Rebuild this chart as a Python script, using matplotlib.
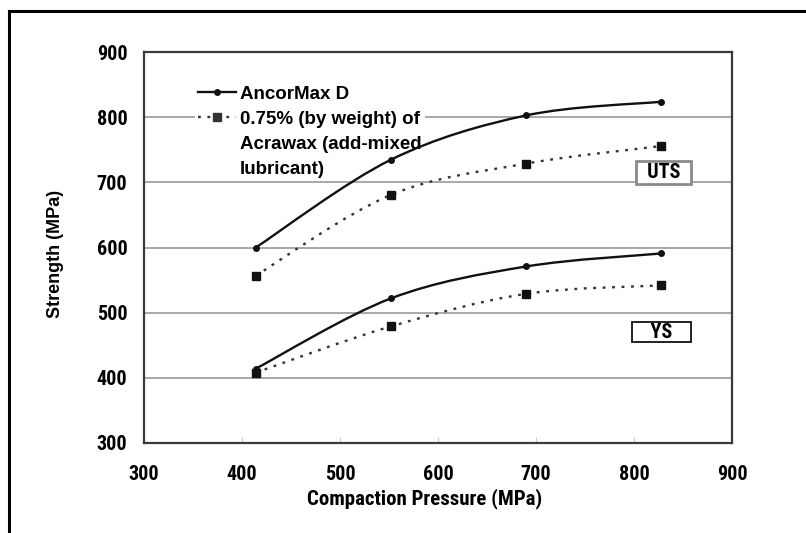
import matplotlib
matplotlib.use("Agg")
import matplotlib.pyplot as plt
from matplotlib.lines import Line2D
from matplotlib.path import Path
from matplotlib.patches import PathPatch
import numpy as np

plt.rcParams['font.family'] = ['Roboto Condensed', 'Archivo Narrow', 'Liberation Sans Narrow', 'DejaVu Sans']
plt.rcParams['font.weight'] = 'bold'

pressure = [414, 552, 690, 828]
uts_ancormax = [600, 735, 803, 824]
uts_acrawax = [557, 681, 729, 756]
ys_ancormax = [414, 522, 571, 591]
ys_acrawax = [408, 479, 529, 542]

legend_labels = ["AncorMax D", "0.75% (by weight) of", "Acrawax (add-mixed", "lubricant)"]
x_ticks = [300, 400, 500, 600, 700, 800, 900]
y_ticks = [300, 400, 500, 600, 700, 800, 900]


def smooth_path(xs, ys):
    # bezier through the points, like the spreadsheet "smoothed line"
    pts = np.column_stack([xs, ys]).astype(float)
    n = len(pts)
    verts = [pts[0]]
    codes = [Path.MOVETO]
    for i in range(n - 1):
        p0 = pts[i - 1] if i > 0 else pts[i]
        p1 = pts[i]
        p2 = pts[i + 1]
        p3 = pts[i + 2] if i + 2 < n else pts[i + 1]
        c1 = p1 + (p2 - p0) / 6.0
        c2 = p2 - (p3 - p1) / 6.0
        verts += [c1, c2, p2]
        codes += [Path.CURVE4] * 3
    return Path(verts, codes)


fig = plt.figure(figsize=(8.06, 5.33), dpi=100)
ax = fig.add_axes([0.1787, 0.169, 0.7295, 0.733])

solid = dict(color='#111111', lw=1.7)
dotted = dict(color='#333333', lw=1.7, linestyle=(0, (1.2, 2.8)))

for ys in (uts_ancormax, ys_ancormax):
    ax.add_patch(PathPatch(smooth_path(pressure, ys), fill=False, zorder=3, **solid))
    ax.plot(pressure, ys, linestyle='none', marker='o', ms=4, color='#111111', zorder=4)
for ys in (uts_acrawax, ys_acrawax):
    ax.add_patch(PathPatch(smooth_path(pressure, ys), fill=False, zorder=3, **dotted))
    ax.plot(pressure, ys, linestyle='none', marker='s', ms=6, color='#111111', zorder=4)

ax.set_xlim(300, 900)
ax.set_ylim(300, 900)
ax.set_xticks(x_ticks)
ax.set_yticks(y_ticks)
ax.tick_params(axis='both', labelsize=14.5, direction='in', length=4, color='#cccccc')
ax.tick_params(axis='y', pad=12, length=0)
ax.tick_params(axis='x', pad=16)
ax.yaxis.grid(True, color='#a8a8a8', lw=1.4)
ax.set_axisbelow(True)
for s in ax.spines.values():
    s.set_color('#3a3a3a')
    s.set_linewidth(1.6)

ax.set_xlabel("Compaction Pressure (MPa)", fontsize=15, fontweight='bold')
ax.xaxis.set_label_coords(0.478, -0.143)
ax.xaxis.label.set_va('center')
ax.set_ylabel("Strength (MPa)", fontsize=13, fontweight='bold',
              family=['Liberation Sans', 'DejaVu Sans'])
ax.yaxis.set_label_coords(-0.15, 0.485)
ax.yaxis.label.set_va('center')

blank = Line2D([], [], linestyle='none')
handles = [Line2D([], [], marker='o', ms=4, **solid),
           Line2D([], [], marker='s', ms=6, **dotted),
           blank, blank]
leg = ax.legend(handles, legend_labels, loc='upper left', bbox_to_anchor=(0.087, 0.922),
                frameon=True, fancybox=False, edgecolor='none',
                facecolor='white', framealpha=1, handlelength=2.05, handletextpad=0.2,
                labelspacing=0.42, borderpad=0.15, borderaxespad=0.0,
                prop={'weight': 'bold', 'size': 13.5,
                      'family': ['Liberation Sans', 'DejaVu Sans']})
leg.set_zorder(2.5)

ax.text(830, 716, "  UTS  ", fontsize=14.5, fontweight='bold', ha='center', va='center',
        bbox=dict(boxstyle='square,pad=0.1', fc='white', ec='#8a8a8a', lw=2.0), zorder=5)
ax.text(828, 470, "    YS    ", fontsize=14.5, fontweight='bold', ha='center', va='center',
        bbox=dict(boxstyle='square,pad=0.02', fc='white', ec='#111111', lw=1.3), zorder=5)

# outer frame (top and left edges of the original figure box)
fig.add_artist(Line2D([9 / 806, 1.0], [1 - 11 / 533, 1 - 11 / 533], color='black', lw=2.2))
fig.add_artist(Line2D([9 / 806, 9 / 806], [0, 1 - 11 / 533], color='black', lw=2.2))

fig.savefig("out.png", dpi=100)
